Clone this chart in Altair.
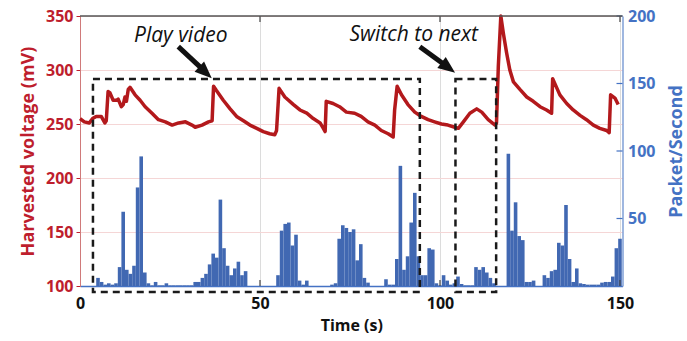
import altair as alt
import pandas as pd

# ---------------- data ----------------
TIME_TICKS = [0, 50, 100, 150]
VOLT_TICKS = [100, 150, 200, 250, 300, 350]
PKT_TICKS = [50, 100, 150, 200]
INNER_TICKS = [50, 100, 150]

volt_t = [0, 1.2, 2.6, 3.5, 4.5, 5.9, 6.9, 7.3,
          7.8, 8.3, 9.2, 10.2, 10.6, 11.5, 12.0, 12.5, 12.9, 13.4, 13.9,
          15.3, 16.7, 18.1, 20.0, 21.8, 23.7, 25.6, 27.4, 29.3, 31.1, 32.0, 33.9, 35.7, 36.7,
          37.1, 37.9, 39.8, 41.7, 43.5, 45.4, 47.2, 49.1, 50.9, 52.7, 54.1, 54.6,
          55.3, 56.9, 59.3, 61.1, 63.0, 64.8, 66.7, 67.6, 68.1,
          68.4, 70.3, 72.1, 74.0, 76.3, 78.1, 80.0, 81.9, 83.7, 85.6, 87.0,
          87.4, 88.1, 89.3, 91.1, 93.0, 94.8, 96.7, 98.5, 100.4, 102.2, 104.1, 105.1, 106.5,
          108.3, 110.2, 111.6, 113.4, 115.3, 115.7,
          116.2, 116.9, 117.6, 118.5, 119.4, 120.4, 122.2, 124.1, 125.9, 127.8, 129.6, 131.0,
          131.3, 133.3, 135.2, 137.0, 138.9, 140.7, 142.6, 144.4, 146.3, 147.0,
          147.4, 148.6, 149.5]
volt_v = [255, 252, 251, 255, 257, 257, 251, 253,
          280, 279, 272, 272, 273, 266, 268, 275, 271, 282, 284,
          277, 272, 266, 260, 254, 252, 249, 251, 252, 249, 247, 249, 252, 253,
          285, 281, 272, 264, 257, 253, 249, 246, 243, 241, 240, 244,
          283, 275, 268, 263, 260, 255, 251, 246, 243,
          271, 269, 266, 261, 260, 257, 252, 249, 244, 241, 238,
          263, 285, 277, 268, 261, 257, 254, 252, 250, 249, 247, 246, 252,
          260, 264, 261, 254, 249, 251,
          303, 350, 334, 316, 300, 289, 282, 275, 271, 266, 263, 260,
          292, 277, 269, 263, 258, 254, 249, 246, 244, 242,
          277, 274, 268]

pkt_sec = list(range(1, 151))
pkt_val = [0, 0, 0, 0, 6, 3, 1, 2, 1, 2,
           14, 55, 12, 9, 15, 73, 96, 10, 2, 0.5,
           3, 0.5, 0.5, 2, 0.5, 0.5, 0.5, 0.5, 0.5, 0.5,
           0.5, 3, 3, 6, 9, 16, 24, 21, 64, 28,
           15, 8, 13, 18, 8, 11, 0, 0, 0, 0,
           0, 0, 0, 0, 8, 41, 46, 47, 30, 38,
           4, 1, 4, 0, 0, 0, 0, 0, 0, 1,
           2, 35, 45, 43, 40, 42, 19, 31, 6, 2.5,
           0, 0, 0, 0, 5, 1, 1, 20, 89, 12,
           22, 47, 69, 22, 8, 8, 28, 27, 2, 0.5,
           8, 4, 1, 2, 7, 1.5, 0.5, 0.5, 0.5, 14,
           12, 14, 10, 6, 2, 0, 0, 0, 98, 41,
           62, 37, 34, 3, 3, 4, 0, 0, 8, 6,
           11, 12, 32, 30, 60, 20, 3, 13, 2, 1.5,
           1, 1, 1, 1, 2.5, 3, 3, 7, 28, 35]

box_t0 = [3.6, 104.3]
box_t1 = [94.4, 115.6]
box_v0 = [94.4, 94.4]
box_v1 = [291.7, 291.7]

ann_text = ["Play video", "Switch to next"]
ann_t = [28.0, 92.7]
ann_v = [326.3, 327.0]

arrow_tail_t = [27.3, 94.4]
arrow_tail_v = [321.6, 321.6]
arrow_end_t = [34.9, 102.4]
arrow_end_v = [298.1, 302.0]
arrow_tip_t = [36.6, 104.2]
arrow_tip_v = [292.3, 297.5]
arrow_ang = [133, 127]

# ---------------- styling ----------------
RED = "#be1e2d"
LINE_RED = "#b3191c"
BLUE = "#4472c4"
BAR_BLUE = "#4168b2"
FONT = "Open Sans"
W, H = 542.5, 270

volt_df = pd.DataFrame({"t": volt_t, "v": volt_v})
pkt_df = pd.DataFrame({"sec": pkt_sec, "p": pkt_val})
pkt_df["s0"] = pkt_df["sec"] - 0.5
pkt_df["s1"] = pkt_df["sec"] + 0.5
pkt_df["p0"] = 0
box_df = pd.DataFrame({"t0": box_t0, "t1": box_t1, "v0": box_v0, "v1": box_v1})
ann_df = pd.DataFrame({"txt": ann_text, "t": ann_t, "v": ann_v})
arr_df = pd.DataFrame({"t0": arrow_tail_t, "v0": arrow_tail_v, "t1": arrow_end_t,
                       "v1": arrow_end_v, "tt": arrow_tip_t, "tv": arrow_tip_v,
                       "ang": arrow_ang})
inner_df = pd.DataFrame({"xt": INNER_TICKS})
pt_df = pd.DataFrame({"pt": PKT_TICKS})
one_df = pd.DataFrame({"k": [0]})

xscale = alt.Scale(domain=[0, 150.7], nice=False, zero=False)
vscale = alt.Scale(domain=[100, 350], nice=False, zero=False)
pscale = alt.Scale(domain=[0, 200], nice=False)

bottom_axis = alt.Axis(values=TIME_TICKS, title="Time (s)", orient="bottom",
                       labelFont=FONT, labelFontSize=16, labelFontWeight="bold",
                       labelColor="#111111", labelFlush=False, labelPadding=9,
                       titleFont=FONT, titleFontSize=16, titleFontWeight="bold",
                       titleColor="#111111", titlePadding=6,
                       ticks=False, domainColor=BLUE, domainWidth=1.5,
                       grid=True, gridColor="#dcdcdc", gridWidth=1)
left_axis = alt.Axis(values=VOLT_TICKS, title="Harvested voltage (mV)", orient="left",
                     labelFont=FONT, labelFontSize=16, labelFontWeight="bold",
                     labelColor=RED, labelPadding=3,
                     titleFont=FONT, titleFontSize=18, titleFontWeight="bold",
                     titleColor=RED, titleAngle=270, titleX=-52, titleY=H / 2,
                     titleAlign="center", titleBaseline="middle",
                     tickColor=RED, tickSize=4, domainColor="#d07a7a", domainWidth=1,
                     grid=True, gridColor="#f5d6d6", gridWidth=1)
right_axis = alt.Axis(values=PKT_TICKS, title="Packet/Second", orient="right",
                      labelFont=FONT, labelFontSize=16, labelFontWeight="bold",
                      labelColor=BLUE, labelPadding=5,
                      titleFont=FONT, titleFontSize=18, titleFontWeight="bold",
                      titleColor=BLUE, titleAngle=270, titleX=54, titleY=H / 2,
                      titleAlign="center", titleBaseline="middle",
                      ticks=False, domainColor="#7f9fd6", domainWidth=1.5, grid=False)

X = lambda f: alt.X(f, scale=xscale, axis=bottom_axis)
YV = lambda f: alt.Y(f, scale=vscale, axis=left_axis)
YP = lambda f: alt.Y(f, scale=pscale, axis=right_axis)

# ---------------- right (packets) ----------------
bars = alt.Chart(pkt_df).mark_bar(color=BAR_BLUE).encode(
    x=X("s0:Q"), x2="s1:Q", y=YP("p:Q"), y2="p0:Q",
)
rticks = alt.Chart(pt_df).mark_rule(color=BLUE, strokeWidth=1.2).encode(
    y=YP("pt:Q"), x=alt.value(W - 6), x2=alt.value(W),
)
right = alt.layer(bars, rticks)

# ---------------- left (voltage + annotations) ----------------
line = alt.Chart(volt_df).mark_line(color=LINE_RED, strokeWidth=3.5, strokeJoin="round").encode(
    x=X("t:Q"), y=YV("v:Q"),
)
boxes = alt.Chart(box_df).mark_rect(fillOpacity=0, stroke="#1a1a1a", strokeWidth=2.5,
                                    strokeDash=[7, 5]).encode(
    x=X("t0:Q"), x2="t1:Q", y=YV("v0:Q"), y2="v1:Q",
)
shafts = alt.Chart(arr_df).mark_rule(color="#111111", strokeWidth=5, strokeCap="butt").encode(
    x=X("t0:Q"), x2="t1:Q", y=YV("v0:Q"), y2="v1:Q",
)
heads = alt.Chart(arr_df).mark_point(shape="M0,0L-0.7,1.7L0.7,1.7Z", filled=True,
                                     opacity=1, color="#111111", size=400).encode(
    x=X("tt:Q"), y=YV("tv:Q"), angle=alt.Angle("ang:Q", scale=None),
)
texts = alt.Chart(ann_df).mark_text(font=FONT, fontSize=21, fontStyle="italic",
                                    color="#111111", align="center",
                                    baseline="alphabetic").encode(
    x=X("t:Q"), y=YV("v:Q"), text="txt:N",
)
top_ticks = alt.Chart(inner_df).mark_rule(color="#444444", strokeWidth=1.2).encode(
    x=X("xt:Q"), y=alt.value(0), y2=alt.value(6),
)
bot_ticks = alt.Chart(inner_df).mark_rule(color="#444444", strokeWidth=1.2).encode(
    x=X("xt:Q"), y=alt.value(H - 6), y2=alt.value(H),
)
top_border = alt.Chart(one_df).mark_rule(color="#555555", strokeWidth=1.5).encode(
    x=alt.value(0), x2=alt.value(W), y=alt.value(0),
)
left = alt.layer(line, boxes, shafts, heads, texts, top_ticks, bot_ticks, top_border)

chart = alt.layer(right, left).resolve_scale(y="independent").properties(
    width=W, height=H,
    autosize=alt.AutoSizeParams(type="none"),
    padding={"left": 80, "top": 16, "right": 64, "bottom": 55},
    background="white",
).configure_view(stroke="transparent")

chart.save("out.html", embed_options={"renderer": "svg", "actions": False})
